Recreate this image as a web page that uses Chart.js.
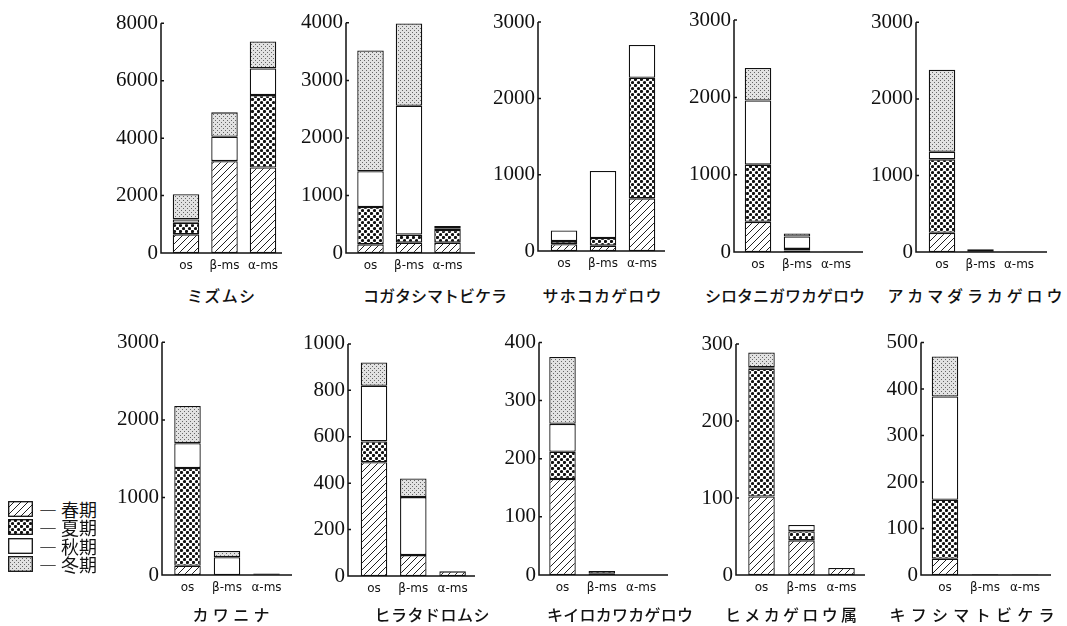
<!DOCTYPE html>
<html lang="ja">
<head>
<meta charset="utf-8">
<script src="https://cdn.jsdelivr.net/npm/chart.js@4.4.1/dist/chart.umd.min.js"></script>
<style>
  body { margin: 0; background: #fff; }
  #wrap { position: relative; width: 1067px; height: 626px; overflow: hidden; }
  canvas.panel { position: absolute; }
  .title {
    position: absolute; font-family: "Noto Sans CJK JP", sans-serif; font-size: 16px;
    font-weight: 500; color: #111; text-align: justify; text-align-last: justify;
    white-space: nowrap; line-height: 20px;
  }
  .leg { position: absolute; left: 8px; height: 18px; display: flex; align-items: center;
    font-family: "Noto Sans CJK JP", sans-serif; font-size: 18px; color: #111; }
  .leg canvas { margin-right: 6px; }
</style>
</head>
<body>
<div id="wrap"></div>
<script>
// species (panel titles) and sampling sites
const species = ['ミズムシ', 'コガタシマトビケラ', 'サホコカゲロウ', 'シロタニガワカゲロウ', 'アカマダラカゲロウ',
                 'カワニナ', 'ヒラタドロムシ', 'キイロカワカゲロウ', 'ヒメカゲロウ属', 'キフシマトビケラ'];
const sites = ['os', 'β-ms', 'α-ms'];
const seasons = ['春期', '夏期', '秋期', '冬期'];

// values per species: [os, β-ms, α-ms]
const spring = [[650, 3200, 2980], [150, 180, 180], [90, 70, 690], [390, 20, 3], [250, 10, 3],
                [120, 0, 10], [490, 90, 20], [165, 2, 0], [102, 45, 9], [35, 1, 1]];
const summer = [[400, 0, 2520], [650, 140, 220], [40, 100, 1580], [740, 20, 0], [960, 15, 0],
                [1260, 0, 10], [90, 0, 0], [47, 5, 0], [166, 12, 0], [127, 1, 0]];
const autumn = [[120, 850, 930], [620, 2240, 30], [140, 880, 430], [830, 160, 0], [100, 0, 0],
                [320, 230, 0], [240, 250, 0], [48, 0, 0], [2, 8, 0], [222, 0, 0]];
const winter = [[880, 850, 940], [2100, 1430, 40], [0, 0, 0], [420, 40, 0], [1070, 10, 0],
                [480, 80, 0], [100, 80, 0], [115, 0, 0], [19, 0, 0], [86, 0, 0]];

// y axis ranges
const yMax = [8000, 4000, 3000, 3000, 3000, 3000, 1000, 400, 300, 500];
const yStep = [2000, 1000, 1000, 1000, 1000, 1000, 200, 100, 100, 100];

// page layout of each panel: axis x, top y, zero y, first bar centre, bar spacing, axis end
const panels = [
  [161, 17, 253, 186, 38.5, 282], [346, 17, 253, 370.5, 38.5, 475], [538, 15, 251, 564, 39, 665],
  [734, 15, 252, 758, 39, 863], [916, 15, 252, 942, 38.5, 1047],
  [162, 336, 575, 187.5, 39.5, 292], [348, 337, 576, 374, 39.3, 475], [539, 338, 575, 562.5, 39.3, 668],
  [736, 338, 575, 761.5, 40, 865], [921, 338, 575, 945, 40, 1051]
];
// title centre x, width, centre y
const titles = [
  [221, 68, 295], [433, 140, 295], [602, 119, 295], [784, 158, 295], [975, 175, 295],
  [231, 77, 614], [432, 115, 614], [620, 146, 614], [791, 132, 614], [972, 165, 614]
];

function makePattern(kind) {
  const c = document.createElement('canvas');
  const x = c.getContext('2d');
  if (kind === 0) {
    c.width = c.height = 7;
    x.fillStyle = '#fff'; x.fillRect(0, 0, 7, 7);
    x.strokeStyle = '#222'; x.lineWidth = 1;
    x.beginPath();
    x.moveTo(-1, 8); x.lineTo(8, -1);
    x.moveTo(-2, 2); x.lineTo(2, -2);
    x.moveTo(5, 9); x.lineTo(9, 5);
    x.stroke();
  } else if (kind === 1) {
    c.width = c.height = 6;
    x.fillStyle = '#fff'; x.fillRect(0, 0, 6, 6);
    x.fillStyle = '#111';
    [[1.5, 1.5], [4.5, 4.5]].forEach(p => { x.beginPath(); x.arc(p[0], p[1], 1.6, 0, Math.PI * 2); x.fill(); });
  } else if (kind === 2) {
    c.width = c.height = 4;
    x.fillStyle = '#fff'; x.fillRect(0, 0, 4, 4);
  } else {
    c.width = c.height = 4;
    x.fillStyle = '#e2e2e2'; x.fillRect(0, 0, 4, 4);
    x.fillStyle = '#666';
    x.fillRect(0, 0, 1, 1); x.fillRect(2, 2, 1, 1);
  }
  return x.createPattern(c, 'repeat');
}
const patterns = [0, 1, 2, 3].map(makePattern);
const seasonData = [spring, summer, autumn, winter];

// axis lines drawn at the page's axis position (left of the first bar gap)
const axisLines = {
  id: 'axisLines',
  afterDraw(chart, args, opts) {
    const { ctx, chartArea, scales: { y } } = chart;
    const x0 = chartArea.left - opts.gap;
    const yTop = y.getPixelForValue(y.max), y0 = y.getPixelForValue(0);
    ctx.save();
    ctx.strokeStyle = '#111';
    ctx.lineWidth = 1.5;
    ctx.beginPath();
    ctx.moveTo(x0, yTop); ctx.lineTo(x0, y0); ctx.lineTo(x0 + opts.len, y0);
    y.ticks.forEach(t => {
      const py = y.getPixelForValue(t.value);
      ctx.moveTo(x0, py); ctx.lineTo(x0 + 3, py);
    });
    ctx.stroke();
    ctx.restore();
  }
};

const wrap = document.getElementById('wrap');
const LEFT = 60, TOP = 15, BOTTOM = 30;

panels.forEach((p, i) => {
  const [axisX, topY, zeroY, c0, sp, xEnd] = p;
  const gap = c0 - axisX - sp / 2;
  const w = LEFT + (xEnd - axisX) + 4;
  const h = zeroY - topY + TOP + BOTTOM;
  const cv = document.createElement('canvas');
  cv.className = 'panel';
  cv.width = w; cv.height = h;
  cv.style.left = (axisX - LEFT) + 'px';
  cv.style.top = (topY - TOP) + 'px';
  wrap.appendChild(cv);

  new Chart(cv, {
    type: 'bar',
    data: {
      labels: sites,
      datasets: seasons.map((s, k) => ({
        label: s,
        data: seasonData[k][i].map(v => v === 0 ? null : v),
        backgroundColor: patterns[k],
        borderColor: '#111',
        borderWidth: 1.3,
        borderSkipped: false,
        barPercentage: 26.5 / sp,
        categoryPercentage: 1
      }))
    },
    options: {
      responsive: false,
      animation: false,
      layout: { padding: { top: TOP, left: 0, bottom: 0, right: w - (LEFT + gap + 3 * sp) } },
      plugins: {
        legend: { display: false },
        tooltip: { enabled: false },
        axisLines: { gap: gap, len: xEnd - axisX }
      },
      scales: {
        x: {
          stacked: true,
          grid: { display: false, drawTicks: false },
          border: { display: false },
          ticks: { color: '#111', padding: 6, font: { family: 'DejaVu Sans', size: 12 } },
          afterFit(s) { s.height = BOTTOM; }
        },
        y: {
          stacked: true,
          min: 0,
          max: yMax[i],
          grid: { display: false, drawTicks: false },
          border: { display: false },
          ticks: { stepSize: yStep[i], color: '#111', padding: gap + 3,
                   font: { family: 'Liberation Serif', size: 21 },
                   callback: v => String(v) },
          afterFit(s) { s.width = LEFT + gap; }
        }
      }
    },
    plugins: [axisLines]
  });
});

// panel titles
species.forEach((name, i) => {
  const [cx, tw, cy] = titles[i];
  const d = document.createElement('div');
  d.className = 'title';
  d.textContent = name;
  d.style.left = (cx - tw / 2) + 'px';
  d.style.width = tw + 'px';
  d.style.top = (cy - 10) + 'px';
  wrap.appendChild(d);
});

// legend
seasons.forEach((s, k) => {
  const row = document.createElement('div');
  row.className = 'leg';
  row.style.top = (500 + k * 18.3) + 'px';
  const sw = document.createElement('canvas');
  sw.width = 25; sw.height = 16;
  const x = sw.getContext('2d');
  x.fillStyle = patterns[k]; x.fillRect(0, 0, 25, 16);
  x.strokeStyle = '#111'; x.lineWidth = 1.3; x.strokeRect(0.7, 0.7, 23.6, 14.6);
  row.appendChild(sw);
  const t = document.createElement('span');
  t.textContent = '— ' + s;
  row.appendChild(t);
  wrap.appendChild(row);
});
</script>
</body>
</html>
